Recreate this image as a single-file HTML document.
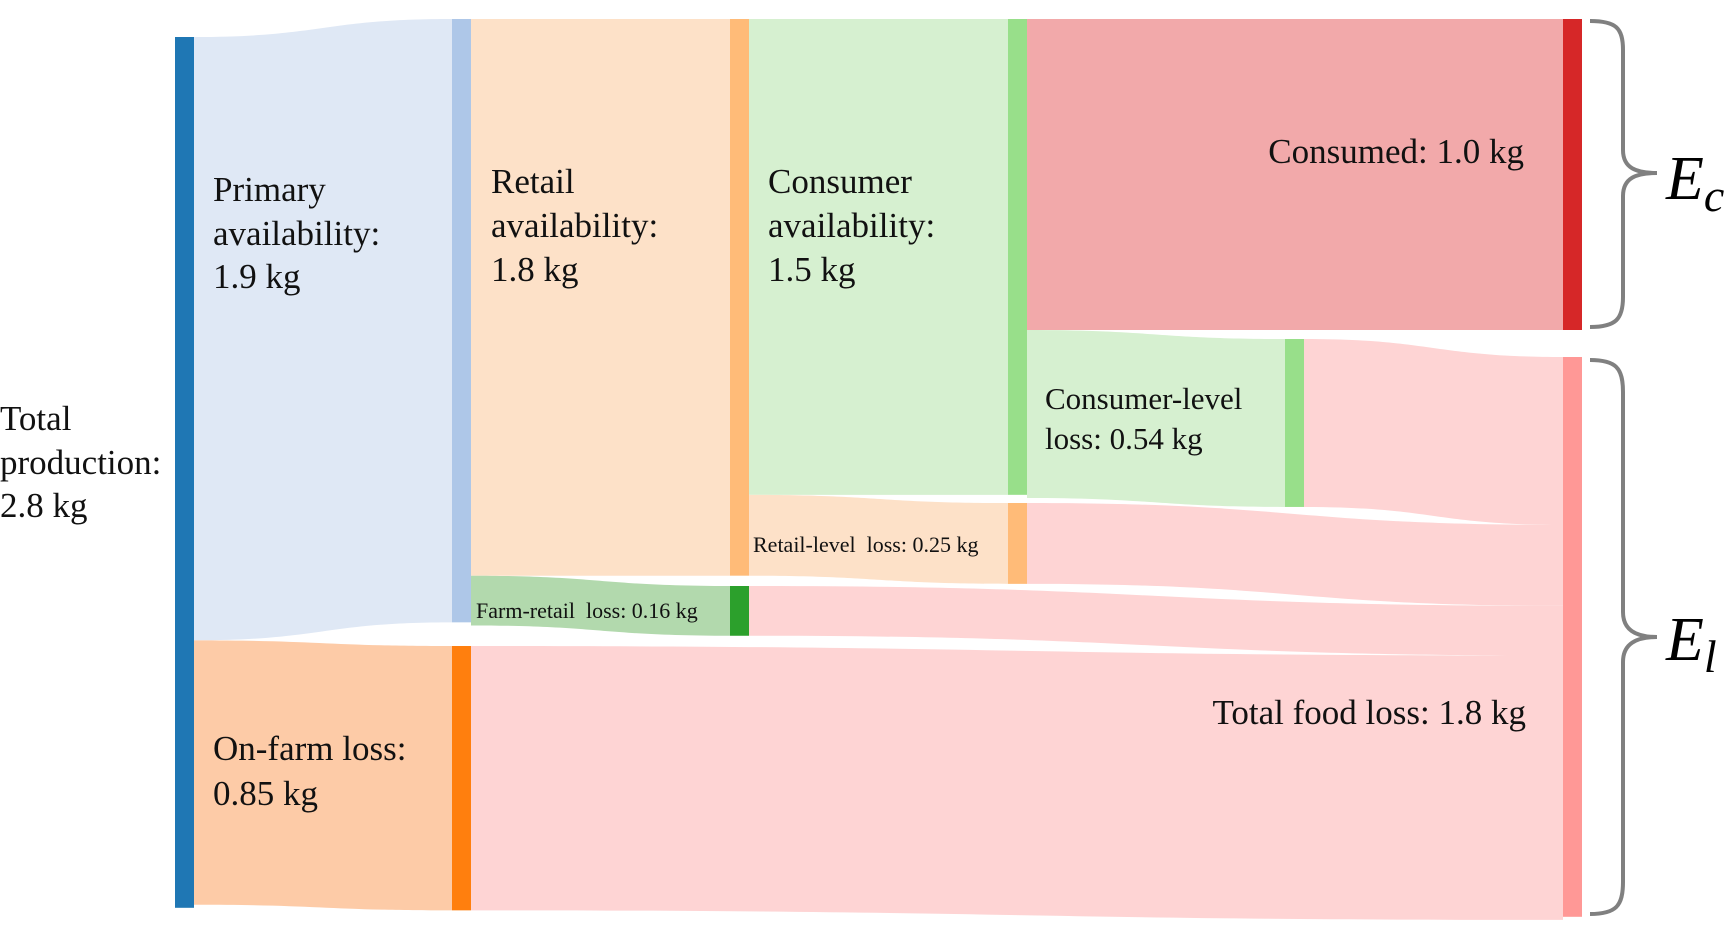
<!DOCTYPE html>
<html><head><meta charset="utf-8"><style>
html,body{margin:0;padding:0;background:#fff;}
svg{display:block;}
text{font-family:"Liberation Serif","Times New Roman","DejaVu Serif",serif;}
</style></head><body>
<svg id="chart" width="1725" height="937" viewBox="0 0 1725 937" xmlns="http://www.w3.org/2000/svg" font-family="Liberation Serif, DejaVu Serif, serif">
<g id="links"></g>
<g id="nodes"></g>
<g id="labels"></g>
<g>
<path d="M1590,21 C1616,21 1623,28 1623,50 L1623,150 C1623,168 1636,173 1657,173 C1636,173 1623,178 1623,196 L1623,297 C1623,319 1616,327 1590,327" fill="none" stroke="#808080" stroke-width="4"/>
<text x="1666" y="199" font-size="62" font-style="italic" font-family="Liberation Serif, DejaVu Serif, serif">E<tspan font-size="46" dy="12">c</tspan></text>
</g>
<g>
<path d="M1590,360 C1616,360 1623,368 1623,392 L1623,612 C1623,630 1636,637 1657,637 C1636,637 1623,644 1623,662 L1623,882 C1623,906 1616,914 1590,914" fill="none" stroke="#808080" stroke-width="4"/>
<text x="1666" y="660" font-size="62" font-style="italic" font-family="Liberation Serif, DejaVu Serif, serif">E<tspan font-size="46" dy="12">l</tspan></text>
</g>
</svg>
<script>
const nodeNames = ["production","primary","onfarm","retail","farmretail","consumer","retaillevel","consumed","consumerlevel","totalloss"];
const nodeValues = [2.8, 1.94, 0.85, 1.79, 0.16, 1.53, 0.26, 1.0, 0.54, 1.8];
const linkSources = ["production","production","primary","primary","retail","retail","consumer","consumer","consumerlevel","retaillevel","farmretail","onfarm"];
const linkTargets = ["primary","onfarm","retail","farmretail","consumer","retaillevel","consumed","consumerlevel","totalloss","totalloss","totalloss","totalloss"];
const linkValues = [1.94, 0.85, 1.79, 0.16, 1.53, 0.26, 1.0, 0.54, 0.54, 0.26, 0.16, 0.85];

// layout (not data)
const K = 311; // px per kg
const nodeX = {production:175,primary:452,onfarm:452,retail:730,farmretail:730,consumer:1008,retaillevel:1008,consumed:1563,consumerlevel:1285,totalloss:1563};
const nodeTop = {production:37,primary:19,onfarm:646,retail:19,farmretail:586,consumer:19,retaillevel:503,consumed:19,consumerlevel:339,totalloss:357};
const nodeColor = {production:"#1f77b4",primary:"#aec7e8",onfarm:"#ff7f0e",retail:"#ffbb78",farmretail:"#2ca02c",consumer:"#98df8a",retaillevel:"#ffbb78",consumed:"#d62728",consumerlevel:"#98df8a",totalloss:"#ff9896"};
const linkColor = ["#dfe8f5","#fdcba7","#fde1c8","#b2d9ad","#d6f0d0","#fde1c8","#f2a9aa","#d6f0d0","#fed4d4","#fed4d4","#fed4d4","#fed4d4"];
const NW = 19;
const NS = "http://www.w3.org/2000/svg";
const nodesG = document.getElementById('nodes'), linksG = document.getElementById('links'), labelsG = document.getElementById('labels');
const outOff = {}, inOff = {};
nodeNames.forEach((n,i)=>{
  outOff[n]=0; inOff[n]=0;
  const r = document.createElementNS(NS,'rect');
  r.setAttribute('x',nodeX[n]); r.setAttribute('y',nodeTop[n]);
  r.setAttribute('width',NW); r.setAttribute('height',nodeValues[i]*K);
  r.setAttribute('fill',nodeColor[n]);
  
  
  nodesG.appendChild(r);
});
linkValues.forEach((v,i)=>{
  const s=linkSources[i], t=linkTargets[i], h=v*K;
  const x0=nodeX[s]+NW, x1=nodeX[t];
  const y0=nodeTop[s]+outOff[s], y1=nodeTop[t]+inOff[t];
  outOff[s]+=h; inOff[t]+=h;
  const xm=(x0+x1)/2;
  const p=document.createElementNS(NS,'path');
  p.setAttribute('d',`M${x0},${y0} C${xm},${y0} ${xm},${y1} ${x1},${y1} L${x1},${y1+h} C${xm},${y1+h} ${xm},${y0+h} ${x0},${y0+h} Z`);
  p.setAttribute('fill',linkColor[i]);
  
  
  linksG.appendChild(p);
});
const labels = [
  {n:"label-total-production",x:0,y:[430,474,517],t:["Total","production:","2.8 kg"],fs:35},
  {n:"label-primary",x:213,y:[201,245,288],t:["Primary","availability:","1.9 kg"],fs:35},
  {n:"label-retail",x:491,y:[193,237,281],t:["Retail","availability:","1.8 kg"],fs:35},
  {n:"label-consumer",x:768,y:[193,237,281],t:["Consumer","availability:","1.5 kg"],fs:35},
  {n:"label-on-farm",x:213,y:[760,805],t:["On-farm loss:","0.85 kg"],fs:35},
  {n:"label-consumer-level",x:1045,y:[409,449],t:["Consumer-level","loss: 0.54 kg"],fs:31},
  {n:"label-farm-retail",x:476,y:[618],t:["Farm-retail  loss: 0.16 kg"],fs:22},
  {n:"label-retail-level",x:753,y:[552],t:["Retail-level  loss: 0.25 kg"],fs:22},
  {n:"label-consumed",x:1524,y:[163],t:["Consumed: 1.0 kg"],fs:35,a:"end"},
  {n:"label-total-loss",x:1526,y:[724],t:["Total food loss: 1.8 kg"],fs:35,a:"end"}
];
labels.forEach(L=>{
  const tx=document.createElementNS(NS,'text');
  tx.setAttribute('font-size',L.fs);
  tx.setAttribute('font-family','Liberation Serif, DejaVu Serif, serif');
  tx.setAttribute('fill','#111');
  tx.setAttribute('xml:space','preserve');
  tx.style.whiteSpace='pre';
  if(L.a) tx.setAttribute('text-anchor',L.a);
  
  
  L.t.forEach((s,j)=>{
    const ts=document.createElementNS(NS,'tspan');
    ts.setAttribute('x',L.x); ts.setAttribute('y',L.y[j]); ts.textContent=s;
    tx.appendChild(ts);
  });
  labelsG.appendChild(tx);
});
</script>
</body></html>
